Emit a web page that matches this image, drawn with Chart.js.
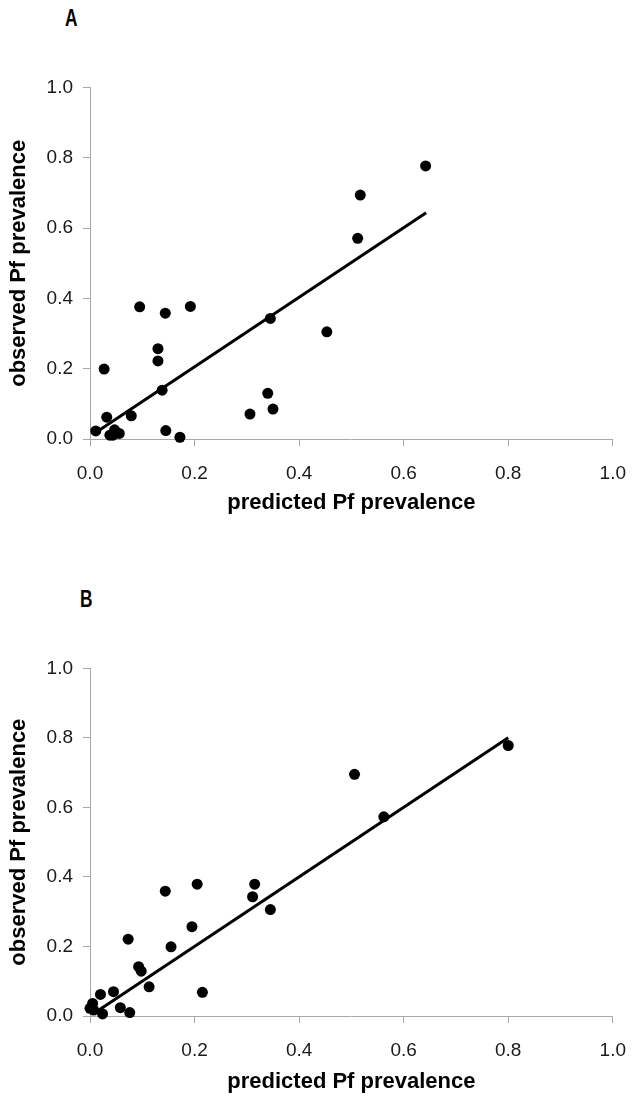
<!DOCTYPE html>
<html>
<head>
<meta charset="utf-8">
<script src="https://cdn.jsdelivr.net/npm/chart.js@4.4.1/dist/chart.umd.min.js"></script>
<style>
html, body { margin: 0; padding: 0; background: #fff; overflow: hidden; }
body { width: 642px; height: 1096px; position: relative; }
canvas { position: absolute; left: 0; }
.tag { position: absolute; font: bold 24px "Liberation Sans", Arial, sans-serif; line-height: 24px;
       transform: scaleX(0.72); transform-origin: left top; color: #000; }
</style>
</head>
<body>
<div class="tag" style="left:65px;top:6px">A</div>
<div class="tag" style="left:80px;top:587px">B</div>
<canvas id="chartA" width="642" height="520" style="top:0"></canvas>
<canvas id="chartB" width="642" height="520" style="top:576px"></canvas>
<script>
// panel A: observed vs predicted (model 1)
const aPredicted = [0.011, 0.027, 0.032, 0.038, 0.044, 0.047, 0.056, 0.079, 0.095, 0.130, 0.130, 0.138,
                    0.144, 0.145, 0.172, 0.192, 0.306, 0.340, 0.345, 0.350, 0.453, 0.512, 0.517, 0.642];
const aObserved  = [0.023, 0.199, 0.062, 0.011, 0.011, 0.026, 0.016, 0.066, 0.376, 0.257, 0.222, 0.139,
                    0.358, 0.024, 0.005, 0.377, 0.071, 0.130, 0.343, 0.085, 0.305, 0.571, 0.694, 0.777];
const aFitX = [0.0125, 0.643];
const aFitY = [0.02, 0.644];

// panel B: observed vs predicted (model 2)
const bPredicted = [0.0, 0.005, 0.007, 0.020, 0.024, 0.045, 0.058, 0.073, 0.076, 0.093, 0.098, 0.113,
                    0.144, 0.155, 0.195, 0.205, 0.215, 0.311, 0.315, 0.345, 0.506, 0.562, 0.800];
const bObserved  = [0.022, 0.036, 0.017, 0.062, 0.006, 0.070, 0.024, 0.221, 0.010, 0.142, 0.129, 0.084,
                    0.359, 0.199, 0.257, 0.379, 0.068, 0.343, 0.379, 0.306, 0.695, 0.573, 0.778];
const bFitX = [0.01, 0.80];
const bFitY = [0.01, 0.80];

const axisTicks = [0, 0.2, 0.4, 0.6, 0.8, 1.0];

const axisGray = '#a8a8a8';
const tickFont = { family: '"Liberation Sans", Arial, sans-serif', size: 19 };
const titleFont = { family: '"Liberation Sans", Arial, sans-serif', size: 22, weight: 'bold' };

function toPoints(xs, ys) {
    return xs.map((x, i) => ({ x: x, y: ys[i] }));
}

function makePanel(id, xs, ys, fitX, fitY, top, bottom, titlePad) {
    const canvas = document.getElementById(id);
    new Chart(canvas.getContext('2d'), {
        type: 'scatter',
        data: {
            datasets: [{
                data: toPoints(xs, ys),
                backgroundColor: '#000',
                borderWidth: 0,
                pointRadius: 5.5,
                clip: false
            }, {
                data: toPoints(fitX, fitY),
                showLine: true,
                borderColor: '#000',
                borderWidth: 3,
                pointRadius: 0,
                clip: false
            }]
        },
        options: {
            responsive: false,
            animation: false,
            layout: { padding: { top: top, right: 19, left: 0, bottom: 0 } },
            plugins: { legend: { display: false }, tooltip: { enabled: false } },
            scales: {
                x: {
                    type: 'linear', min: 0, max: 1,
                    afterBuildTicks: s => { s.ticks = axisTicks.map(v => ({ value: v })); },
                    afterFit: s => { s.height = canvas.height - bottom; },
                    grid: { drawOnChartArea: false, tickLength: 7, color: axisGray },
                    border: { color: axisGray },
                    ticks: { font: tickFont, color: '#1a1a1a', padding: 16, callback: v => v.toFixed(1) },
                    title: { display: true, text: 'predicted Pf prevalence', font: titleFont, color: '#000',
                             padding: { top: 0, bottom: titlePad } }
                },
                y: {
                    type: 'linear', min: 0, max: 1,
                    afterBuildTicks: s => { s.ticks = axisTicks.map(v => ({ value: v })); },
                    afterFit: s => { s.width = 90; },
                    grid: { drawOnChartArea: false, tickLength: 7, color: axisGray },
                    border: { color: axisGray },
                    ticks: { font: tickFont, color: '#1a1a1a', padding: 10, callback: v => v.toFixed(1) },
                    title: { display: true, text: 'observed Pf prevalence', font: titleFont, color: '#000',
                             padding: { top: 6, bottom: 0 } }
                }
            }
        }
    });
}

makePanel('chartA', aPredicted, aObserved, aFitX, aFitY, 87.5, 439, 4);
makePanel('chartB', bPredicted, bObserved, bFitX, bFitY, 92.3, 440, 1);
</script>
</body>
</html>
